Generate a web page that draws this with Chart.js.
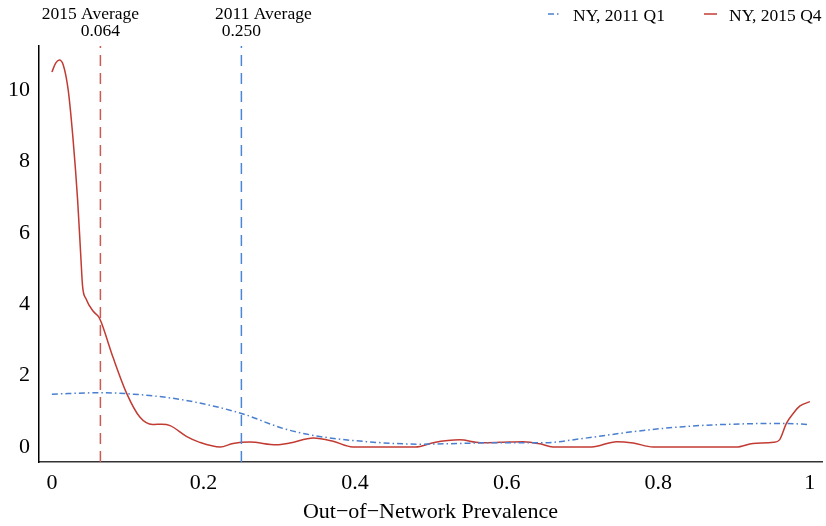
<!DOCTYPE html>
<html>
<head>
<meta charset="utf-8">
<script src="https://cdn.jsdelivr.net/npm/chart.js@4/dist/chart.umd.min.js"></script>
<style>
  html, body { margin: 0; padding: 0; background: #fff; }
  #wrap { width: 826px; height: 526px; }
</style>
</head>
<body>
<div id="wrap"><canvas id="myChart"></canvas></div>
<script>
// density of out-of-network prevalence
var ny2011X = [0, 0.063, 0.107, 0.173, 0.25, 0.305, 0.349, 0.415, 0.485, 0.591, 0.648, 0.701, 0.767, 0.833, 0.899, 0.965, 1.0];
var ny2011Y = [1.48, 1.52, 1.48, 1.32, 0.94, 0.52, 0.31, 0.15, 0.08, 0.12, 0.12, 0.24, 0.43, 0.57, 0.64, 0.66, 0.63];

var ny2015X = [0, 0.005, 0.0097, 0.015, 0.0215, 0.028, 0.034, 0.038, 0.0405, 0.045, 0.0545, 0.062, 0.0655, 0.081, 0.0985,
  0.116, 0.133, 0.145, 0.156, 0.178, 0.195, 0.222, 0.239, 0.261, 0.296, 0.314, 0.345, 0.371, 0.397, 0.48,
  0.503, 0.538, 0.565, 0.591, 0.622, 0.644, 0.661, 0.712, 0.745, 0.767, 0.793, 0.903, 0.925, 0.952, 0.96,
  0.969, 0.978, 0.987, 1.0];
var ny2015Y = [10.5, 10.75, 10.84, 10.7, 10.0, 8.6, 6.9, 5.4, 4.5, 4.15, 3.8, 3.64, 3.47, 2.49, 1.51,
  0.84, 0.63, 0.64, 0.6, 0.29, 0.13, 0.0, 0.1, 0.14, 0.06, 0.11, 0.25, 0.16, 0.0, 0.0,
  0.12, 0.2, 0.12, 0.13, 0.15, 0.09, 0.0, 0.0, 0.15, 0.11, 0.0, 0.0, 0.1, 0.13, 0.2,
  0.66, 0.94, 1.15, 1.27];

var avgLabels = ["2015 Average", "2011 Average"];
var avgValues = [0.064, 0.250];
var seriesLabels = ["NY, 2011 Q1", "NY, 2015 Q4"];

var xTicks = [0, 0.2, 0.4, 0.6, 0.8, 1];
var yTicks = [0, 2, 4, 6, 8, 10];

var xMin = -0.017, xMax = 1.016;
var yMin = -0.42, yMax = 11.23;

var RED = "#c23b33";
var BLUE = "#4a7fcf";
var SERIF = "'Liberation Serif', 'DejaVu Serif', serif";

function pts(xs, ys) {
    var out = [];
    for (var i = 0; i < xs.length; i++) out.push({x: xs[i], y: ys[i]});
    return out;
}

var annotate = {
    id: "annotate",
    afterDraw: function(chart) {
        var ctx = chart.ctx;
        var xs = chart.scales.x;
        ctx.save();
        ctx.fillStyle = "#000";
        ctx.font = "17.5px " + SERIF;
        ctx.textAlign = "center";
        ctx.textBaseline = "alphabetic";
        // label offsets relative to each average line
        var offs = [-10, 22];
        for (var i = 0; i < avgValues.length; i++) {
            var px = xs.getPixelForValue(avgValues[i]);
            ctx.fillText(avgLabels[i], px + offs[i], 19);
            ctx.fillText(avgValues[i].toFixed(3), px, 36);
        }
        // legend
        var items = [
            {text: seriesLabels[0], color: BLUE, dash: [6, 3, 1.5, 3], x0: 548},
            {text: seriesLabels[1], color: RED, dash: [], x0: 704}
        ];
        ctx.textAlign = "left";
        items.forEach(function(it) {
            ctx.beginPath();
            ctx.setLineDash(it.dash);
            ctx.strokeStyle = it.color;
            ctx.lineWidth = 1.5;
            ctx.moveTo(it.x0, 14);
            ctx.lineTo(it.x0 + 13, 14);
            ctx.stroke();
            ctx.setLineDash([]);
            ctx.fillText(it.text, it.x0 + 25, 21);
        });
        ctx.restore();
    }
};

var chart = new Chart(document.getElementById("myChart"), {
    type: "line",
    data: {
        datasets: [
            {
                label: "avg2015",
                data: [{x: avgValues[0], y: yMin}, {x: avgValues[0], y: yMax}],
                borderColor: "#cc5a52",
                borderWidth: 1.5,
                borderDash: [11, 7],
                pointRadius: 0
            },
            {
                label: "avg2011",
                data: [{x: avgValues[1], y: yMin}, {x: avgValues[1], y: yMax}],
                borderColor: "#4a86d8",
                borderWidth: 1.5,
                borderDash: [11, 7],
                pointRadius: 0
            },
            {
                label: seriesLabels[0],
                data: pts(ny2011X, ny2011Y),
                borderColor: BLUE,
                borderWidth: 1.5,
                borderDash: [6, 3, 1.5, 3],
                pointRadius: 0,
                cubicInterpolationMode: "monotone"
            },
            {
                label: seriesLabels[1],
                data: pts(ny2015X, ny2015Y),
                borderColor: RED,
                borderWidth: 1.5,
                pointRadius: 0,
                cubicInterpolationMode: "monotone"
            }
        ]
    },
    options: {
        responsive: true,
        maintainAspectRatio: false,
        animation: false,
        layout: { padding: { top: 46, right: 4, left: 0, bottom: 0 } },
        plugins: {
            legend: { display: false },
            tooltip: { enabled: false }
        },
        scales: {
            x: {
                type: "linear",
                min: xMin,
                max: xMax,
                grid: { display: false, drawTicks: false },
                border: { display: true, color: "#333", width: 1.5 },
                afterBuildTicks: function(s) { s.ticks = xTicks.map(function(v) { return {value: v}; }); },
                afterFit: function(s) { s.height = 64; },
                ticks: {
                    color: "#000",
                    padding: 8,
                    maxRotation: 0,
                    font: { family: SERIF, size: 22 },
                    callback: function(v) { return String(v); }
                },
                title: {
                    display: true,
                    text: "Out\u2212of\u2212Network Prevalence",
                    color: "#000",
                    font: { family: SERIF, size: 22 },
                    padding: { top: 0, bottom: 1 }
                }
            },
            y: {
                min: yMin,
                max: yMax,
                grid: { display: false, drawTicks: false },
                border: { display: true, color: "#000", width: 1.5 },
                afterBuildTicks: function(s) { s.ticks = yTicks.map(function(v) { return {value: v}; }); },
                afterFit: function(s) { s.width = 39; },
                ticks: {
                    color: "#000",
                    padding: 9,
                    font: { family: SERIF, size: 22 },
                    callback: function(v) { return String(v); }
                }
            }
        }
    },
    plugins: [annotate]
});
</script>
</body>
</html>
